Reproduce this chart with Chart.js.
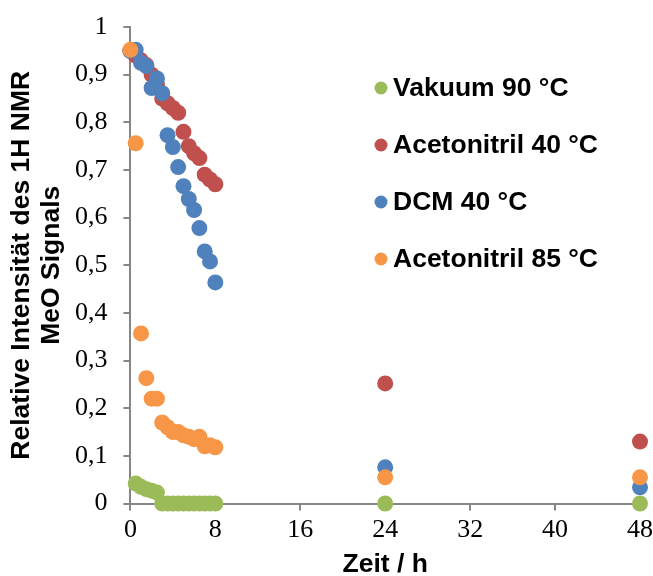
<!DOCTYPE html>
<html>
<head>
<meta charset="utf-8">
<script src="https://cdn.jsdelivr.net/npm/chart.js"></script>
<style>
  html, body { margin: 0; padding: 0; background: #fff; }
  #wrap { width: 653px; height: 576px; }
</style>
</head>
<body>
<div id="wrap"><canvas id="myChart" width="653" height="576"></canvas></div>
<script>
// time points (h), shared by all series
const zeit = [0, 0.5, 1, 1.5, 2, 2.5, 3, 3.5, 4, 4.5, 5, 5.5, 6, 6.5, 7, 7.5, 8, 24, 48];

// relative intensity of the MeO signal, one list per series
const vakuum90 = [null, 0.042, 0.035, 0.030, 0.027, 0.023, 0, 0, 0, 0, 0, 0, 0, 0, 0, 0, 0, 0, 0];
const acetonitril40 = [0.95, 0.94, 0.93, 0.92, 0.90, 0.88, 0.85, 0.84, 0.83, 0.82, 0.78, 0.75, 0.735, 0.725, 0.69, 0.68, 0.67, 0.252, 0.13];
const dcm40 = [0.95, 0.952, 0.925, 0.918, 0.872, 0.892, 0.861, 0.773, 0.748, 0.706, 0.666, 0.639, 0.616, 0.578, 0.529, 0.508, 0.464, 0.076, 0.034];
const acetonitril85 = [0.952, 0.756, 0.357, 0.263, 0.22, 0.22, 0.17, 0.16, 0.15, 0.15, 0.143, 0.14, 0.135, 0.14, 0.12, 0.122, 0.118, 0.055, 0.055];

const labels = ['Vakuum 90 °C', 'Acetonitril 40 °C', 'DCM 40 °C', 'Acetonitril 85 °C'];
const colors = ['#9BBB59', '#C0504D', '#4F81BD', '#F79646'];
const series = [vakuum90, acetonitril40, dcm40, acetonitril85];

const xTicks = [0, 8, 16, 24, 32, 40, 48];

function toPoints(vals) {
  let pts = [];
  for (let i = 0; i < zeit.length; i++) {
    if (vals[i] !== null) pts.push({ x: zeit[i], y: vals[i] });
  }
  return pts;
}

const datasets = series.map(function (vals, i) {
  return {
    label: labels[i],
    data: toPoints(vals),
    backgroundColor: colors[i],
    borderWidth: 0,
    pointRadius: 8,
    clip: false,
    order: series.length - i   // later series drawn on top, like in excel
  };
});

const sans = '"Liberation Sans", Arial, sans-serif';
const serif = '"Liberation Serif", "Times New Roman", serif';
const axisGray = '#868686';

// legend drawn inside the plot area, on the right
const innerLegend = {
  id: 'innerLegend',
  afterDraw(chart) {
    const ctx = chart.ctx;
    ctx.save();
    ctx.font = 'bold 26.5px ' + sans;
    ctx.textBaseline = 'middle';
    ctx.textAlign = 'left';
    chart.data.datasets.forEach(function (ds, i) {
      const y = 88 + i * 57;
      ctx.fillStyle = ds.backgroundColor;
      ctx.beginPath();
      ctx.arc(381, y, 6.5, 0, Math.PI * 2);
      ctx.fill();
      ctx.fillStyle = '#000';
      ctx.fillText(ds.label, 393, y + 1);
    });
    ctx.restore();
  }
};

const config = {
  type: 'scatter',
  data: { datasets: datasets },
  options: {
    responsive: false,
    animation: false,
    layout: { padding: { top: 27, right: 13, left: 4, bottom: 0 } },
    plugins: {
      legend: { display: false },
      tooltip: { enabled: false }
    },
    scales: {
      x: {
        type: 'linear',
        min: 0,
        max: 48,
        afterBuildTicks: function (axis) {
          axis.ticks = xTicks.map(function (v) { return { value: v }; });
        },
        // let the outer layout padding decide the right edge
        afterFit: function (scale) { scale.paddingRight = 0; },
        border: { color: axisGray, width: 2 },
        grid: { drawOnChartArea: false, tickLength: 7, color: axisGray, lineWidth: 2 },
        ticks: { color: '#000', font: { family: serif, size: 26, lineHeight: 1 }, padding: 7, maxRotation: 0 },
        title: {
          display: true,
          text: 'Zeit / h',
          color: '#000',
          font: { family: sans, size: 26.5, weight: 'bold', lineHeight: 1 },
          padding: { top: 1, bottom: -2 }
        }
      },
      y: {
        min: 0,
        max: 1,
        afterFit: function (scale) { scale.paddingTop = 0; },
        border: { color: axisGray, width: 2 },
        grid: { drawOnChartArea: false, tickLength: 7, color: axisGray, lineWidth: 2 },
        ticks: {
          stepSize: 0.1,
          color: '#000',
          font: { family: serif, size: 26 },
          padding: 16,
          callback: function (v) { return String(Math.round(v * 10) / 10).replace('.', ','); }
        },
        title: {
          display: true,
          text: ['Relative Intensität des 1H NMR', 'MeO Signals'],
          color: '#000',
          font: { family: sans, size: 26.5, weight: 'bold', lineHeight: 1.13 },
          padding: { top: 3, bottom: -8 }
        }
      }
    }
  },
  plugins: [innerLegend]
};

const myChart = new Chart(document.getElementById('myChart'), config);
</script>
</body>
</html>
